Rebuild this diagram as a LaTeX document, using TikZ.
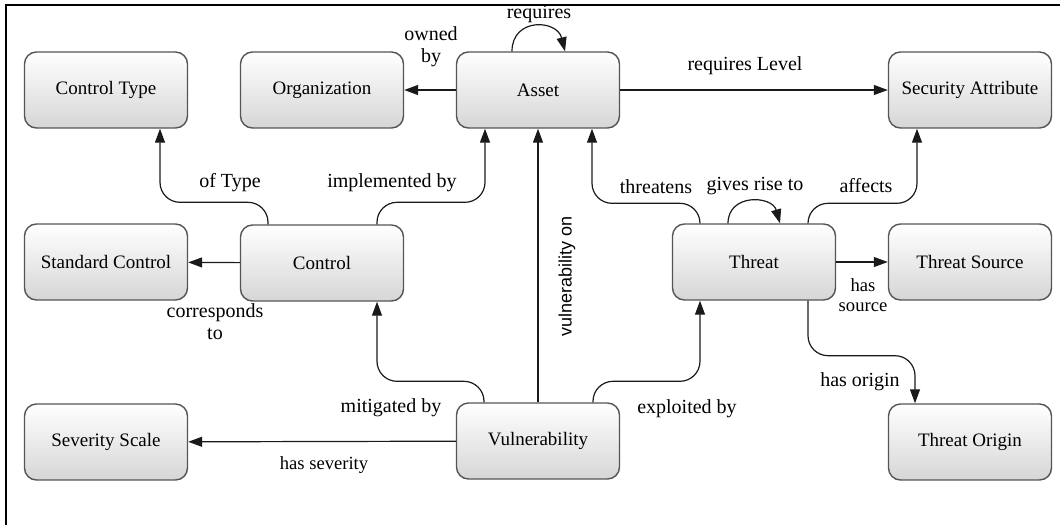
\documentclass[tikz,border=0pt]{standalone}
\usepackage{fontspec}
\setmainfont{Liberation Serif}
\setsansfont{Liberation Sans}
\usetikzlibrary{arrows.meta,calc}
\definecolor{cedge}{HTML}{1A1A1A}
\definecolor{cbox}{HTML}{555555}
\definecolor{cshade}{HTML}{D6D6D6}
\tikzset{
  concept/.style={draw=cbox, line width=0.7pt, rounded corners=6pt, minimum width=81.5pt, minimum height=38pt, inner sep=2pt, top color=white, bottom color=cshade, font=\fontsize{9.5}{11}\selectfont, align=center},
  pre/.style={-{Triangle[length=7pt,width=5pt]}, line width=0.6pt, draw=cedge},
  elbow/.style={pre, rounded corners=10pt},
  lbl/.style={font=\fontsize{10}{11}\selectfont, align=center, inner sep=1pt},
  slbl/.style={lbl, font=\fontsize{9.3}{10}\selectfont},
  vlbl/.style={lbl, font=\sffamily\fontsize{9}{10}\selectfont, rotate=90},
  frame/.style={line width=1pt, draw=black},
}
\begin{document}
\begin{tikzpicture}[x=0.5pt,y=-0.5pt]
\useasboundingbox (0,0) rectangle (1060,525);
\draw[frame] (6,525) -- (6,5) -- (1060,5);
% ---------------- concepts
\node[concept] (ctype) at (106,90) {Control Type};
\node[concept] (org) at (322,90) {Organization};
\node[concept] (asset) at (538,90) {Asset};
\node[concept] (secattr) at (970,90) {Security Attribute};
\node[concept] (stdctrl) at (106,262) {Standard Control};
\node[concept] (ctrl) at (322,263) {Control};
\node[concept] (threat) at (754,262) {Threat};
\node[concept] (tsource) at (970,262) {Threat Source};
\node[concept] (sevscale) at (106,442) {Severity Scale};
\node[concept] (vuln) at (538,441) {Vulnerability};
\node[concept] (torigin) at (970,442) {Threat Origin};
% ---------------- straight relations
\draw[pre] (asset) -- (org);
\draw[pre] (asset) -- (secattr);
\draw[pre] (ctrl) -- (stdctrl);
\draw[pre] (threat) -- (tsource);
\draw[pre] (vuln) -- (sevscale);
\draw[pre] (vuln) -- (asset);
% ---------------- bent relations
\draw[elbow] ([xshift=-27pt]ctrl.north) -- ++(0,-22) -| ([xshift=27pt]ctype.south);
\draw[elbow] ([xshift=27.5pt]ctrl.north) -- ++(0,-22) -| ([xshift=-26.5pt]asset.south);
\draw[elbow] ([xshift=-27pt]vuln.north) -- ++(0,-21) -| ([xshift=27.5pt]ctrl.south);
\draw[elbow] ([xshift=27.5pt]vuln.north) -- ++(0,-21) -| ([xshift=-27pt]threat.south);
\draw[elbow] ([xshift=-27pt]threat.north) -- ++(0,-20) -| ([xshift=27pt]asset.south);
\draw[elbow] ([xshift=27pt]threat.north) -- ++(0,-20) -| ([xshift=-26.5pt]secattr.south);
\draw[elbow] ([xshift=27pt]threat.south) -- ++(0,55) -| ([xshift=-27.5pt]torigin.north);
% self loops
\draw[pre] ([xshift=-13pt]asset.north) .. controls +(0,-34) and +(-8,-32) .. ([xshift=13.5pt]asset.north);
\draw[pre] ([xshift=-13pt]threat.north) .. controls +(0,-30) and +(-8,-28) .. ([xshift=13pt]threat.north);
% ---------------- labels
\node[lbl] (lreq) at (539,14) {requires};
\node[lbl] (lown) at (431,47) {owned\\by};
\node[lbl] (lreqlvl) at (745,66) {requires Level};
\node[lbl] (ltype) at (230,183) {of Type};
\node[lbl] (limpl) at (392,183) {implemented by};
\node[lbl] (lthr) at (656,187) {threatens};
\node[lbl] (lrise) at (755,186) {gives rise to};
\node[lbl] (laff) at (866,186) {affects};
\node[slbl] (lsrc) at (863,295) {has\\source};
\node[lbl] (lcorr) at (215,322) {corresponds\\to};
\node[lbl] (lmit) at (391,408) {mitigated by};
\node[lbl] (lexp) at (687,409) {exploited by};
\node[slbl] (lsev) at (324,465) {has severity};
\node[lbl] (lorig) at (860,382) {has origin};
\node[vlbl] (lvon) at (567,276) {vulnerability on};
\end{tikzpicture}
\end{document}
